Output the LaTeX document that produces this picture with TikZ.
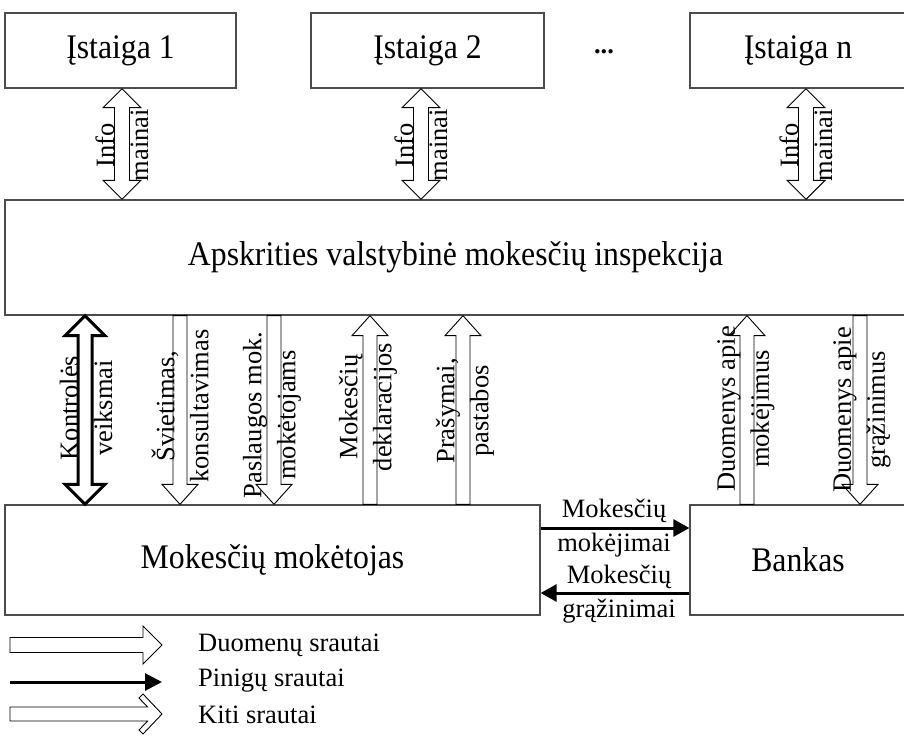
\documentclass[tikz,border=0pt]{standalone}
\usepackage{fontspec}
\setmainfont{Liberation Serif}
\newfontfamily\narrowserif{Liberation Serif}[FakeStretch=0.92]
\usetikzlibrary{calc,arrows.meta}

% hollow arrow from #2 to #3: shaft half width #4, head half width #5, head length #6
\newcommand\hollowflow[6][]{%
  \path (#2) coordinate (fA) (#3) coordinate (fB) ($(#3)!#6!(#2)$) coordinate (fH);
  \draw[flow,#1] ($(fA)!#4!90:(fB)$) -- ($(fH)!#4!-90:(fA)$) -- ($(fH)!#5!-90:(fA)$) -- (fB)
    -- ($(fH)!#5!90:(fA)$) -- ($(fH)!#4!90:(fA)$) -- ($(fA)!#4!-90:(fB)$) -- cycle;}

% hollow arrow with a head at both ends
\newcommand\hollowduo[6][]{%
  \path (#2) coordinate (fA) (#3) coordinate (fB)
    ($(#2)!#6!(#3)$) coordinate (fG) ($(#3)!#6!(#2)$) coordinate (fH);
  \draw[flow,#1] (fA) -- ($(fG)!#5!90:(fB)$) -- ($(fG)!#4!90:(fB)$)
    -- ($(fH)!#4!-90:(fA)$) -- ($(fH)!#5!-90:(fA)$) -- (fB)
    -- ($(fH)!#5!90:(fA)$) -- ($(fH)!#4!90:(fA)$)
    -- ($(fG)!#4!-90:(fB)$) -- ($(fG)!#5!-90:(fB)$) -- cycle;}

\begin{document}
\begin{tikzpicture}[x=1pt,y=-1pt,
  box/.style={draw=black!70, line width=1.3pt, inner sep=0pt,
    font=\narrowserif\fontsize{34.5}{40}\selectfont},
  lbl/.style={font=\fontsize{26.5}{34}\selectfont, align=center, inner sep=0pt},
  vlbl/.style={lbl, rotate=90},
  flow/.style={draw=black, line width=0.9pt, fill=white, line join=miter},
  ctrl/.style={line width=3pt},
  money/.style={draw=black, line width=3pt, -{Triangle[length=16pt,width=17pt]}},
]
\useasboundingbox (0,0) rectangle (904,736);

% institutions
\node[box, minimum width=231pt, minimum height=75pt] (i1) at (120.5,50.5) {Įstaiga 1};
\node[box, minimum width=233pt, minimum height=75pt] (i2) at (427.5,50.5) {Įstaiga 2};
\node[lbl, font=\bfseries\fontsize{26.5}{34}\selectfont] (dots) at (604,52) {...};
\node[box, minimum width=216pt, minimum height=75pt] (in) at (798,50.5) {Įstaiga n};

% inspection
\node[box, minimum width=901pt, minimum height=115pt] (ap) at (455.5,257.5)
  {Apskrities valstybinė mokesčių inspekcija};

% taxpayer and bank
\node[box, minimum width=535pt, minimum height=110pt] (mm) at (272.5,560) {Mokesčių mokėtojas};
\node[box, minimum width=216pt, minimum height=110pt] (bk) at (798,560) {Bankas};

% arrow columns
\coordinate (c1) at (122,0);
\coordinate (c2) at (421,0);
\coordinate (c3) at (806,0);
\coordinate (k1) at (85,0);
\coordinate (k2) at (180,0);
\coordinate (k3) at (274,0);
\coordinate (k4) at (370,0);
\coordinate (k5) at (463,0);
\coordinate (k6) at (747,0);
\coordinate (k7) at (860,0);

% information exchange
\hollowduo{i1.south -| c1}{ap.north -| c1}{7.5pt}{19pt}{19pt}
\hollowduo{i2.south -| c2}{ap.north -| c2}{7.5pt}{19pt}{19pt}
\hollowduo{in.south -| c3}{ap.north -| c3}{7.5pt}{19pt}{19pt}

% flows between the inspection and the taxpayer / bank
\hollowduo[ctrl]{ap.south -| k1}{mm.north -| k1}{7pt}{20pt}{20pt}
\hollowflow{ap.south -| k2}{mm.north -| k2}{7pt}{18pt}{20pt}
\hollowflow{ap.south -| k3}{mm.north -| k3}{7pt}{18pt}{20pt}
\hollowflow{mm.north -| k4}{ap.south -| k4}{7pt}{18pt}{20pt}
\hollowflow{mm.north -| k5}{ap.south -| k5}{7pt}{18pt}{20pt}
\hollowflow{bk.north -| k6}{ap.south -| k6}{7pt}{18pt}{20pt}
\hollowflow{ap.south -| k7}{bk.north -| k7}{7pt}{18pt}{20pt}

\node[vlbl] (t1) at (122,145) {Info\\mainai};
\node[vlbl] (t2) at (421,145) {Info\\mainai};
\node[vlbl] (t3) at (806,145) {Info\\mainai};
\node[vlbl] (u1) at (86,408) {Kontrolės\\veiksmai};
\node[vlbl] (u2) at (180,406) {Švietimas,\\konsultavimas};
\node[vlbl] (u3) at (272,415) {Paslaugos mok.\\mokėtojams};
\node[vlbl] (u4) at (368,407) {Mokesčių\\deklaracijos};
\node[vlbl] (u5) at (465,411) {Prašymai,\\pastabos};
\node[vlbl] (u6) at (746,409) {Duomenys apie\\mokėjimus};
\node[vlbl] (u7) at (862,410) {Duomenys apie\\grąžinimus};

% money flows
\coordinate (pay) at (0,528);
\coordinate (ret) at (0,593);
\draw[money] (mm.east |- pay) -- (bk.west |- pay);
\draw[money] (bk.west |- ret) -- (mm.east |- ret);
\node[lbl] (pl) at (614,528) {Mokesčių\\mokėjimai};
\node[lbl] (rl) at (619,594) {Mokesčių\\grąžinimai};

% legend
\coordinate (la) at (10,645);
\coordinate (lb) at (162,645);
\coordinate (ma) at (10,682);
\coordinate (mb) at (162,682);
\hollowflow{la}{lb}{7.5pt}{19pt}{19pt}
\draw[money, -{Triangle[length=17pt,width=17pt]}] (ma) -- (mb);
\draw[flow] (10,707) -- (147.6,707) -- (139,698) -- (143,694) -- (162,714)
  -- (143,734) -- (139,730) -- (147.6,721) -- (10,721) -- cycle;
\node[lbl, anchor=west] (g1) at (198,645) {Duomenų srautai};
\node[lbl, anchor=west] (g2) at (198,681) {Pinigų srautai};
\node[lbl, anchor=west] (g3) at (198,715) {Kiti srautai};
\end{tikzpicture}
\end{document}
